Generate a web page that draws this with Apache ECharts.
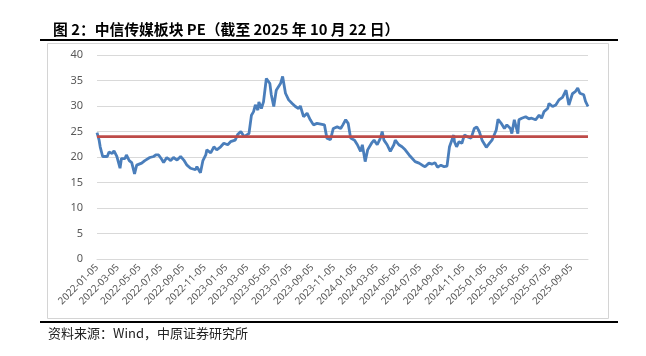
<!DOCTYPE html>
<html>
<head>
<meta charset="utf-8">
<script src="https://cdn.jsdelivr.net/npm/echarts@6/dist/echarts.min.js"></script>
<style>
html,body{margin:0;padding:0;background:#fff;}
#chart{width:646px;height:356px;}
</style>
</head>
<body>
<div id="chart"></div>
<script>
// ---- data ----
var peDates = [
'2022-01-05','2022-01-11','2022-01-14','2022-01-21','2022-02-03','2022-02-08','2022-02-17','2022-02-22','2022-03-02','2022-03-11',
'2022-03-15','2022-03-25','2022-03-29','2022-04-06','2022-04-13','2022-04-21','2022-04-27','2022-05-11','2022-05-20','2022-06-03',
'2022-06-14','2022-06-20','2022-06-28','2022-07-07','2022-07-12','2022-07-21','2022-08-01','2022-08-09','2022-08-19','2022-08-29',
'2022-09-07','2022-09-16','2022-09-26','2022-10-10','2022-10-14','2022-10-24','2022-10-31','2022-11-08','2022-11-11','2022-11-22',
'2022-12-01','2022-12-09','2022-12-20','2022-12-29','2023-01-09','2023-01-17','2023-01-30','2023-02-06','2023-02-15','2023-02-24',
'2023-03-03','2023-03-10','2023-03-17','2023-03-23','2023-03-28','2023-04-04','2023-04-07','2023-04-14','2023-04-20','2023-04-28',
'2023-05-08','2023-05-12','2023-05-19','2023-05-26','2023-06-07','2023-06-13','2023-06-21','2023-06-30','2023-07-10','2023-07-19',
'2023-07-28','2023-08-02','2023-08-11','2023-08-21','2023-08-30','2023-09-08','2023-09-18','2023-10-09','2023-10-16','2023-10-26',
'2023-11-03','2023-11-14','2023-11-24','2023-11-30','2023-12-08','2023-12-15','2023-12-22','2024-01-02','2024-01-10','2024-01-19',
'2024-01-24','2024-02-01','2024-02-08','2024-02-19','2024-02-26','2024-03-06','2024-03-15','2024-03-20','2024-03-25','2024-04-03',
'2024-04-12','2024-04-22','2024-04-26','2024-05-06','2024-05-15','2024-05-24','2024-06-04','2024-06-13','2024-06-21','2024-07-02',
'2024-07-11','2024-07-19','2024-07-30','2024-08-08','2024-08-16','2024-08-23','2024-09-02','2024-09-11','2024-09-19','2024-09-26',
'2024-10-08','2024-10-10','2024-10-16','2024-10-23','2024-10-31','2024-11-07','2024-11-15','2024-11-26','2024-12-05','2024-12-12',
'2024-12-19','2024-12-27','2025-01-08','2025-01-17','2025-01-24','2025-02-05','2025-02-10','2025-02-19','2025-02-28','2025-03-07',
'2025-03-17','2025-03-21','2025-03-28','2025-04-07','2025-04-10','2025-04-18','2025-04-29','2025-05-08','2025-05-16','2025-05-27',
'2025-06-06','2025-06-13','2025-06-20','2025-06-30','2025-07-04','2025-07-14','2025-07-23','2025-08-01','2025-08-11','2025-08-21',
'2025-08-29','2025-09-08','2025-09-16','2025-09-23','2025-09-29','2025-10-10','2025-10-15','2025-10-22'
];
var peValues = [
24.8,23.3,22.0,20.1,20.1,21.0,20.7,21.2,20.1,17.8,
19.7,19.7,20.4,19.3,18.9,16.7,18.4,18.8,19.3,19.9,
20.1,20.4,20.4,19.5,18.9,19.9,19.3,19.9,19.4,20.1,
19.4,18.4,17.8,17.5,18.1,16.9,19.3,20.4,21.4,20.8,
22.0,21.4,22.0,22.7,22.4,23.0,23.3,24.4,25.0,24.0,
24.3,24.6,28.2,28.9,30.2,29.2,30.8,29.5,30.8,35.4,
34.4,32.2,29.9,33.1,34.4,35.8,32.5,31.2,30.5,29.9,
29.5,30.0,27.9,28.6,27.3,26.3,26.6,26.3,23.7,23.4,
25.6,25.9,25.6,26.3,27.3,26.6,23.7,23.3,22.4,21.1,
22.4,19.1,21.4,22.7,23.3,22.4,23.7,25.0,23.3,22.4,
21.1,22.4,23.3,22.4,22.0,21.4,20.4,19.7,19.1,18.8,
18.4,18.1,18.8,18.6,18.9,18.0,18.4,18.1,18.2,22.0,
24.3,23.0,22.0,23.0,22.7,24.3,24.0,23.7,25.6,25.9,
25.0,23.3,21.9,22.7,23.3,25.3,27.4,26.6,25.6,26.3,
25.6,24.6,27.3,24.6,27.3,27.6,27.9,27.5,27.6,27.3,
28.2,27.6,28.9,29.5,30.5,29.9,30.2,31.2,31.7,33.1,
30.2,32.4,32.8,33.5,32.5,32.2,30.9,29.9
];
var avgDates = ['2022-01-05','2025-10-22'];
var avgValues = [24.0, 24.0];
var xTickLabels = [
'2022-01-05','2022-03-05','2022-05-05','2022-07-05','2022-09-05','2022-11-05',
'2023-01-05','2023-03-05','2023-05-05','2023-07-05','2023-09-05','2023-11-05',
'2024-01-05','2024-03-05','2024-05-05','2024-07-05','2024-09-05','2024-11-05',
'2025-01-05','2025-03-05','2025-05-05','2025-07-05','2025-09-05'
];
var yTicks = {min: 0, max: 40, interval: 5};
var titleText = '图 2：中信传媒板块 PE（截至 2025 年 10 月 22 日）';
var sourceText = '资料来源：Wind，中原证券研究所';

function ts(s){ var p = s.split('-'); return Date.UTC(+p[0], +p[1] - 1, +p[2]); }
function fmt(v){
  var d = new Date(v);
  function pad(n){ return (n < 10 ? '0' : '') + n; }
  return d.getUTCFullYear() + '-' + pad(d.getUTCMonth() + 1) + '-' + pad(d.getUTCDate());
}

var chart = echarts.init(document.getElementById('chart'), null, {renderer: 'canvas'});
var option = {
  animation: false,
  backgroundColor: '#ffffff',
  title: {
    text: titleText,
    left: 48, top: 17,
    textStyle: {fontFamily: '"Noto Sans CJK SC", sans-serif', fontSize: 14.8, fontWeight: 'bold', color: '#000'}
  },
  graphic: [
    {type: 'rect', shape: {x: 47.5, y: 43.5, width: 561, height: 275}, style: {fill: 'none', stroke: '#d4d4d4', lineWidth: 1}, z: -1},
    {type: 'line', shape: {x1: 40, y1: 40, x2: 618, y2: 40}, style: {stroke: '#000', lineWidth: 2}},
    {type: 'line', shape: {x1: 40, y1: 322, x2: 618, y2: 322}, style: {stroke: '#000', lineWidth: 2}},
    {type: 'text', left: 48, top: 327, style: {text: sourceText, font: '13px "Noto Sans CJK SC", sans-serif', fill: '#222'}}
  ],
  grid: {left: 97, right: 58, top: 55, bottom: 97, containLabel: false},
  xAxis: {
    type: 'value',
    min: ts(peDates[0]),
    max: ts(peDates[peDates.length - 1]),
    axisLine: {show: true, lineStyle: {color: '#d9d9d9', width: 1}},
    axisTick: {show: false},
    splitLine: {show: false},
    axisLabel: {
      customValues: xTickLabels.map(ts),
      rotate: 45,
      margin: 7,
      fontSize: 10,
      fontFamily: '"Noto Sans", sans-serif',
      color: '#595959',
      hideOverlap: false,
      formatter: function (v) { return fmt(v); }
    }
  },
  yAxis: {
    type: 'value',
    min: yTicks.min, max: yTicks.max, interval: yTicks.interval,
    axisLine: {show: false},
    axisTick: {show: false},
    axisLabel: {fontSize: 11, color: '#595959', margin: 14, fontFamily: '"Noto Sans", sans-serif'},
    splitLine: {lineStyle: {color: '#d9d9d9', width: 1}}
  },
  series: [
    {
      name: 'PE',
      type: 'line',
      showSymbol: false,
      data: peDates.map(function (d, i) { return [ts(d), peValues[i]]; }),
      lineStyle: {color: '#4A7EBB', width: 2.8},
      itemStyle: {color: '#4A7EBB'},
      z: 2
    },
    {
      name: '均值',
      type: 'line',
      showSymbol: false,
      data: avgDates.map(function (d, i) { return [ts(d), avgValues[i]]; }),
      lineStyle: {color: '#BE4B48', width: 2.8},
      itemStyle: {color: '#BE4B48'},
      z: 3
    }
  ]
};
chart.setOption(option);
</script>
</body>
</html>
